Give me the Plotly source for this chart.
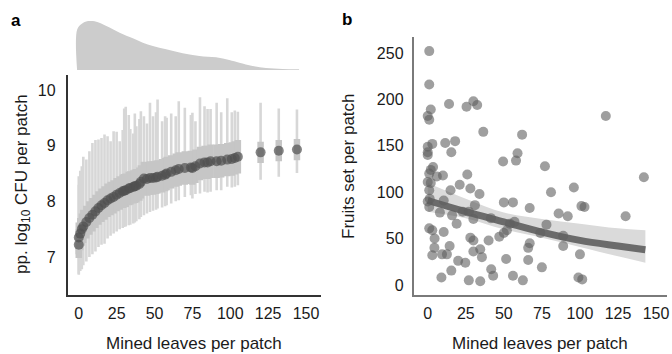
import plotly.graph_objects as go

# ---------------- Panel a data ----------------
a_x = [0, 0, 1, 2, 3, 5, 7, 9, 11, 13, 15, 17, 19, 21, 23, 25, 27, 29, 30, 31, 33,
       34, 36, 37, 38, 40, 41, 43, 45, 47, 49, 51, 52, 55, 57, 58, 61, 64, 66, 70, 74,
       75, 77, 80, 83, 85, 87, 91, 94, 98, 101, 103, 105, 120, 132, 144]
a_mean = [7.22, 7.35, 7.42, 7.50, 7.55, 7.63, 7.70, 7.76, 7.82, 7.88, 7.93, 7.97,
          8.02, 8.05, 8.08, 8.12, 8.15, 8.18, 8.19, 8.20, 8.23, 8.24, 8.26, 8.27, 8.28,
          8.31, 8.35, 8.41, 8.40, 8.42, 8.42, 8.43, 8.44, 8.46, 8.48, 8.50, 8.53, 8.56,
          8.58, 8.60, 8.61, 8.60, 8.63, 8.68, 8.70, 8.70, 8.72, 8.72, 8.73, 8.75, 8.76,
          8.78, 8.80, 8.88, 8.91, 8.93]
a_lo95 = [6.68, 6.70, 6.75, 6.78, 6.85, 6.92, 7.00, 7.05, 7.10, 7.18, 7.22, 7.24,
          7.33, 7.38, 7.42, 7.46, 7.50, 7.52, 7.54, 7.55, 7.57, 7.58, 7.60, 7.62, 7.64,
          7.68, 7.72, 7.75, 7.78, 7.81, 7.83, 7.85, 7.87, 7.89, 7.91, 7.93, 7.96, 8.00,
          8.02, 8.08, 8.11, 8.05, 8.13, 8.14, 8.17, 8.16, 8.17, 8.20, 8.20, 8.26, 8.25,
          8.26, 8.29, 8.39, 8.44, 8.51]
a_hi95 = [8.30, 8.45, 8.55, 8.63, 8.80, 8.75, 8.90, 9.05, 9.10, 9.11, 9.14, 9.20,
          9.17, 9.08, 9.26, 9.25, 9.08, 9.28, 9.67, 9.70, 9.55, 9.30, 9.22, 9.58, 9.35,
          9.48, 9.62, 9.53, 9.40, 9.77, 9.53, 9.60, 9.83, 9.44, 9.53, 9.50, 9.58, 9.53,
          9.80, 9.68, 9.55, 9.59, 9.44, 9.87, 9.71, 9.66, 9.66, 9.77, 9.60, 9.85, 9.60,
          9.63, 9.61, 9.77, 9.67, 9.65]
a_lo50 = [6.98, 7.05, 7.12, 7.20, 7.25, 7.33, 7.40, 7.46, 7.52, 7.58, 7.63, 7.67,
          7.72, 7.75, 7.78, 7.82, 7.85, 7.88, 7.89, 7.90, 7.93, 7.94, 7.96, 7.97, 7.98,
          8.01, 8.05, 8.11, 8.10, 8.12, 8.12, 8.13, 8.14, 8.16, 8.18, 8.20, 8.23, 8.26,
          8.28, 8.30, 8.31, 8.30, 8.33, 8.38, 8.40, 8.40, 8.42, 8.42, 8.43, 8.45, 8.46,
          8.48, 8.50, 8.69, 8.72, 8.74]
a_hi50 = [7.50, 7.62, 7.70, 7.78, 7.85, 7.92, 8.00, 8.06, 8.12, 8.18, 8.23, 8.27,
          8.32, 8.35, 8.38, 8.42, 8.45, 8.48, 8.49, 8.50, 8.53, 8.54, 8.56, 8.57, 8.58,
          8.61, 8.65, 8.71, 8.70, 8.72, 8.72, 8.73, 8.74, 8.76, 8.78, 8.80, 8.83, 8.86,
          8.88, 8.90, 8.91, 8.90, 8.93, 8.98, 9.00, 9.00, 9.02, 9.02, 9.03, 9.05, 9.06,
          9.08, 9.10, 9.07, 9.10, 9.12]

# density of mined leaves (top marginal of panel a)
dens_x = [-1.1, -1.1, 1.8, 6.1, 11.6, 18.2, 27, 35.7, 42.3, 48.9, 57.7, 68.6, 79.6,
          90.6, 99.3, 106, 114.7, 123.5, 134.4, 145.4]
dens_y = [0, 0.82, 0.94, 1.0, 0.986, 0.898, 0.762, 0.646, 0.558, 0.49, 0.422, 0.34,
          0.286, 0.259, 0.204, 0.15, 0.082, 0.04, 0.02, 0.014]

# ---------------- Panel b data ----------------
b_x = [1, 1, 2, 0, 1, 14, 25.5, 30, 32.5, 117, 36.5, 62, 3, 0, 0, 0, 11.5, 18, 15.5,
       49.5, 58, 59, 77, 3.5, 2, 1, 6, 10, 26, 142, 0, 2, 1, 15, 21, 28, 34, 1.3, 0,
       10.5, 31, 50, 56, 67, 1, 8, 16, 19, 23, 27, 30, 41.5, 54, 57, 52, 47, 50, 40,
       28, 30, 1, 3, 10.5, 4.5, 4.4, 14.4, 34.5, 3, 9.4, 12.6, 35.6, 30, 51.5, 20,
       24.7, 66, 41.7, 75, 15.5, 9, 27, 34.5, 43, 56, 62.5, 66, 67, 78, 74, 81, 96,
       101, 103, 86, 92, 130, 89, 89, 100, 99, 101.5]
b_y = [252, 216, 189, 182, 178, 195, 192, 198, 194, 182, 165, 162, 152, 149, 143, 140,
       153, 155, 143, 133, 134, 142, 128, 127, 124, 120, 117, 118, 119, 116, 111, 110,
       102, 102, 108, 104, 98, 93, 90, 91, 86, 89, 89, 83, 84, 78, 75, 66, 79, 79, 71,
       72, 66, 68, 59, 52, 56, 48, 51, 48, 61, 59, 57, 50, 40, 42, 38.5, 32, 33, 33,
       30, 36, 28, 26, 24, 27, 17, 19, 15.5, 8, 5, 4, 10, 10, 5, 40, 45, 65, 56, 100,
       105, 85, 84, 77, 74, 74, 53, 42, 33, 8, 6]

# fitted curve with confidence band
fit_x = [0, 25, 50, 75, 100, 125, 143]
fit_y = [91, 79, 68, 57, 48, 42, 38]
fit_lo = [79, 72, 60, 51, 41, 31, 24]
fit_hi = [110, 93, 78, 71, 66, 61, 59]

x_ticks = [0, 25, 50, 75, 100, 125, 150]
a_yticks = [7, 8, 9, 10]
b_yticks = [0, 50, 100, 150, 200, 250]

FONT = "Liberation Sans, Arial, Helvetica, sans-serif"

# ---------------- build figure ----------------
fig = go.Figure()

# density marginal
fig.add_trace(go.Scatter(x=dens_x, y=dens_y, mode="lines", fill="tozeroy",
                         line=dict(color="#cccccc", width=0, shape="spline"),
                         fillcolor="#cccccc", xaxis="x3", yaxis="y3",
                         hoverinfo="skip"))

# thin 95% lines
lx, ly = [], []
for x, lo, hi in zip(a_x, a_lo95, a_hi95):
    lx += [x, x, None]
    ly += [lo, hi, None]
fig.add_trace(go.Scatter(x=lx, y=ly, mode="lines",
                         line=dict(color="#d7d7d7", width=2.6),
                         xaxis="x", yaxis="y", hoverinfo="skip"))
# thick 50% bars
bx, by = [], []
for x, lo, hi in zip(a_x, a_lo50, a_hi50):
    bx += [x, x, None]
    by += [lo, hi, None]
fig.add_trace(go.Scatter(x=bx, y=by, mode="lines",
                         line=dict(color="#c6c6c6", width=6.5),
                         xaxis="x", yaxis="y", hoverinfo="skip"))
# means
fig.add_trace(go.Scatter(x=a_x, y=a_mean, mode="markers",
                         marker=dict(size=10, color="rgba(80,80,80,0.7)",
                                     line=dict(width=0)),
                         xaxis="x", yaxis="y"))

# panel b band
fig.add_trace(go.Scatter(x=fit_x, y=fit_hi, mode="lines",
                         line=dict(width=0, shape="spline"),
                         xaxis="x2", yaxis="y2", hoverinfo="skip"))
fig.add_trace(go.Scatter(x=fit_x, y=fit_lo, mode="lines", fill="tonexty",
                         fillcolor="#dadada", line=dict(width=0, shape="spline"),
                         xaxis="x2", yaxis="y2", hoverinfo="skip"))
fig.add_trace(go.Scatter(x=fit_x, y=fit_y, mode="lines",
                         line=dict(color="#6b6b6b", width=7, shape="spline"),
                         xaxis="x2", yaxis="y2"))
fig.add_trace(go.Scatter(x=b_x, y=b_y, mode="markers",
                         marker=dict(size=10, color="rgba(95,95,95,0.6)",
                                     line=dict(width=0)),
                         xaxis="x2", yaxis="y2"))

W, H = 672, 354
def px(v):
    return v / W
def py(v):
    return (H - v) / H

tickfont = dict(family=FONT, size=16, color="#1a1a1a")
common_x = dict(showgrid=False, zeroline=False, showline=True, ticks="",
                tickmode="array", tickvals=x_ticks, tickfont=tickfont,
                ticklabelstandoff=3)

fig.update_layout(
    width=W, height=H, showlegend=False,
    margin=dict(l=0, r=0, t=0, b=0),
    paper_bgcolor="white", plot_bgcolor="white",
    xaxis=dict(domain=[px(68), px(322)], range=[-7.24, 159.9], anchor="y",
               linecolor="#333333", linewidth=2, **common_x),
    yaxis=dict(domain=[py(295), py(75)], range=[6.317, 10.27], anchor="x",
               showgrid=False, zeroline=False, showline=True, linecolor="#333333",
               linewidth=2, ticks="", tickmode="array", tickvals=a_yticks,
               tickfont=tickfont, ticklabelstandoff=7),
    xaxis3=dict(domain=[px(68), px(322)], range=[-7.24, 159.9], anchor="y3",
                visible=False),
    yaxis3=dict(domain=[py(70), py(21)], range=[0, 1.0], anchor="x3",
                visible=False),
    xaxis2=dict(domain=[px(415), px(669)], range=[-9.17, 157.2], anchor="y2",
                linecolor="#7a7a7a", linewidth=2, **common_x),
    yaxis2=dict(domain=[py(295), py(37)], range=[-10.8, 267.2], anchor="x2",
                showgrid=False, zeroline=False, showline=True, linecolor="#7a7a7a",
                linewidth=2, ticks="", tickmode="array", tickvals=b_yticks,
                tickfont=tickfont, ticklabelstandoff=5),
)

title_font = dict(family=FONT, size=17, color="#1a1a1a")
annotations = [
    dict(text="Mined leaves per patch", x=px(195), y=py(343), xref="paper",
         yref="paper", showarrow=False, font=title_font, xanchor="center",
         yanchor="middle"),
    dict(text="Mined leaves per patch", x=px(542), y=py(343), xref="paper",
         yref="paper", showarrow=False, font=title_font, xanchor="center",
         yanchor="middle"),
    dict(text="pp. log<sub>10</sub> CFU per patch", x=px(23), y=py(184),
         xref="paper", yref="paper", showarrow=False, font=title_font,
         textangle=-90, xanchor="center", yanchor="middle"),
    dict(text="Fruits set per patch", x=px(349), y=py(166), xref="paper",
         yref="paper", showarrow=False, font=title_font, textangle=-90,
         xanchor="center", yanchor="middle"),
    dict(text="<b>a</b>", x=px(16), y=py(20), xref="paper", yref="paper",
         showarrow=False, font=dict(family=FONT, size=17, color="black"),
         xanchor="center", yanchor="middle"),
    dict(text="<b>b</b>", x=px(348), y=py(19), xref="paper", yref="paper",
         showarrow=False, font=dict(family=FONT, size=17, color="black"),
         xanchor="center", yanchor="middle"),
]
fig.update_layout(annotations=annotations)

fig.write_html("out.html", config={"displayModeBar": False},
               post_script="document.body.style.margin='0';"
                           "document.body.style.overflow='hidden';")
